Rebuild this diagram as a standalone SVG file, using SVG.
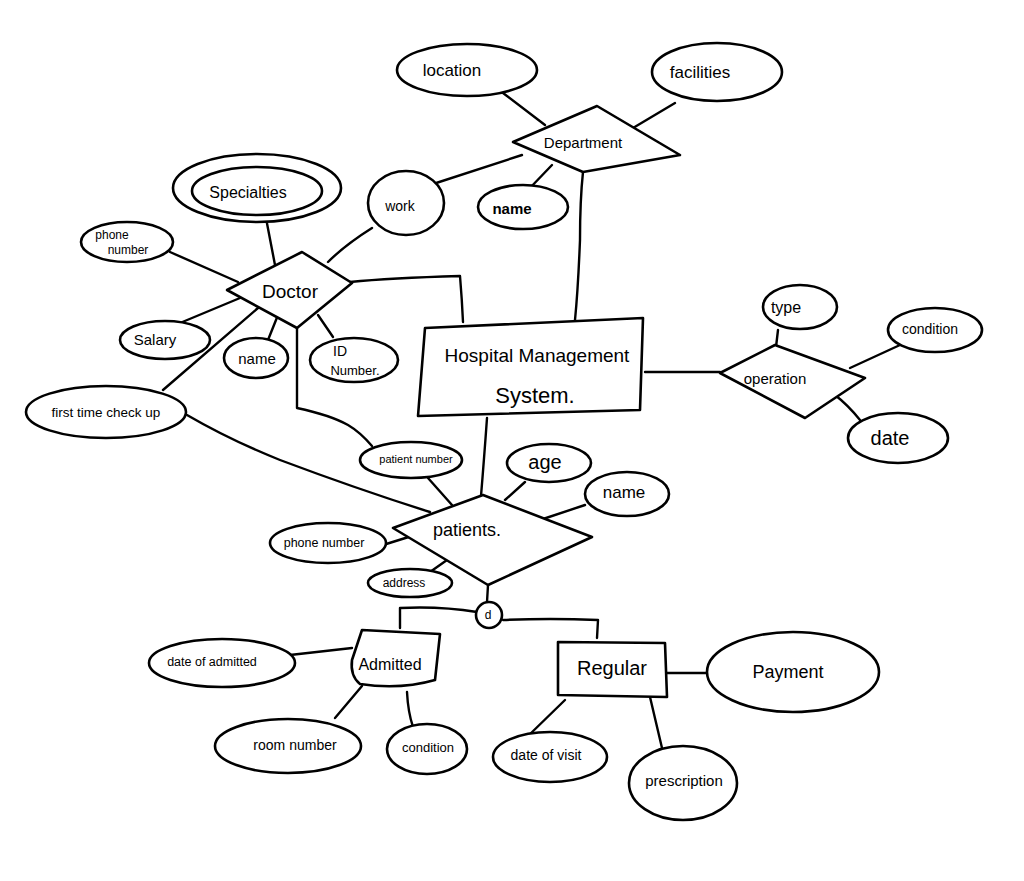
<svg xmlns="http://www.w3.org/2000/svg" width="1024" height="881" viewBox="0 0 1024 881">
<style>
.s{fill:#fff;stroke:#000;stroke-width:2.6;stroke-linejoin:round;stroke-linecap:round}
.c{fill:none;stroke:#000;stroke-width:2.4;stroke-linecap:round;stroke-linejoin:round}
text{font-family:"Liberation Sans",Arial,sans-serif;fill:#000;text-anchor:middle;dominant-baseline:middle}
</style>
<rect width="1024" height="881" fill="#fff"/>
<g id="connectors" class="c">
<path d="M503,93 L545,125"/>
<path d="M675,103 L633,128"/>
<path d="M522,155 L430,185"/>
<path d="M552,165 L528,190"/>
<path d="M583,172 Q580,200 580,240 Q578,290 575,320"/>
<path d="M372,228 Q345,245 328,262"/>
<path d="M265,213 L275,265"/>
<path d="M170,252 L238,282"/>
<path d="M180,323 L240,298"/>
<path d="M268,340 L278,315"/>
<path d="M333,337 L318,315"/>
<path d="M163,390 L258,308"/>
<path d="M187,415 Q230,440 280,460 Q360,490 430,512"/>
<path d="M350,282 Q390,278 460,276 Q462,300 463,322"/>
<path d="M297,328 L297,408 Q330,415 348,425 Q360,432 372,446"/>
<path d="M428,478 L452,505"/>
<path d="M487,418 Q484,460 481,496"/>
<path d="M525,482 L505,500"/>
<path d="M585,505 L540,520"/>
<path d="M383,545 L415,535"/>
<path d="M430,572 L447,560"/>
<path d="M645,372 L720,372"/>
<path d="M778,330 L776,347"/>
<path d="M900,345 L850,368"/>
<path d="M835,395 Q848,405 860,420"/>
<path d="M488,585 L487,602"/>
<path d="M477,612 Q440,606 400,608 L400,628"/>
<path d="M503,620 Q550,618 598,620 L597,638"/>
<path d="M290,655 L352,648"/>
<path d="M335,718 L362,686"/>
<path d="M407,692 Q408,712 413,727"/>
<path d="M565,700 L527,737"/>
<path d="M650,697 L662,748"/>
<path d="M667,673 L710,673"/>
</g>
<g id="location"><ellipse class="s" cx="467" cy="70" rx="70" ry="26"/><text x="452" y="72" font-size="17">location</text></g>
<g id="facilities"><ellipse class="s" cx="717" cy="72" rx="65" ry="29"/><text x="700" y="74" font-size="17">facilities</text></g>
<g id="department"><path class="s" d="M513,142 L597,106 L680,155 L583,172 Z"/><text x="583" y="144" font-size="15">Department</text></g>
<g id="work"><ellipse class="s" cx="406" cy="203" rx="38" ry="32"/><text x="400" y="207" font-size="14">work</text></g>
<g id="dept-name"><ellipse class="s" cx="523" cy="207" rx="45" ry="22"/><text x="512" y="210" font-size="15" font-weight="bold">name</text></g>
<g id="specialties"><ellipse class="s" cx="257" cy="188" rx="84" ry="34"/><ellipse class="s" cx="257" cy="191" rx="65" ry="24"/><text x="248" y="194" font-size="16">Specialties</text></g>
<g id="doctor-phone"><ellipse class="s" cx="127" cy="242" rx="46" ry="20"/><text x="112" y="236" font-size="12">phone</text><text x="128" y="251" font-size="12">number</text></g>
<g id="doctor"><path class="s" d="M227,290 L302,252 L352,283 L297,328 Z"/><text x="290" y="293" font-size="19">Doctor</text></g>
<g id="salary"><ellipse class="s" cx="165" cy="340" rx="45" ry="19"/><text x="155" y="341" font-size="15">Salary</text></g>
<g id="doctor-name"><ellipse class="s" cx="256" cy="358" rx="32" ry="20"/><text x="257" y="360" font-size="15">name</text></g>
<g id="id-number"><ellipse class="s" cx="354" cy="360" rx="44" ry="22"/><text x="340" y="352" font-size="14">ID</text><text x="355" y="372" font-size="13">Number.</text></g>
<g id="first-checkup"><ellipse class="s" cx="106" cy="412" rx="80" ry="26"/><text x="106" y="413" font-size="13.5">first time check up</text></g>
<g id="hms"><path class="s" d="M425,328 L643,318 L640,410 L418,416 Z"/><text x="537" y="357" font-size="19">Hospital  Management</text><text x="535" y="397" font-size="22">System.</text></g>
<g id="operation"><path class="s" d="M720,373 L775,345 L865,378 L805,418 Z"/><text x="775" y="380" font-size="15">operation</text></g>
<g id="type"><ellipse class="s" cx="800" cy="307" rx="37" ry="22"/><text x="786" y="309" font-size="16">type</text></g>
<g id="op-condition"><ellipse class="s" cx="935" cy="330" rx="47" ry="22"/><text x="930" y="330" font-size="14">condition</text></g>
<g id="date"><ellipse class="s" cx="898" cy="438" rx="50" ry="25"/><text x="890" y="440" font-size="20">date</text></g>
<g id="patient-number"><ellipse class="s" cx="411" cy="460" rx="51" ry="18"/><text x="416" y="460" font-size="11">patient number</text></g>
<g id="age"><ellipse class="s" cx="549" cy="463" rx="42" ry="19"/><text x="545" y="464" font-size="20">age</text></g>
<g id="patient-name"><ellipse class="s" cx="627" cy="494" rx="42" ry="22"/><text x="624" y="494" font-size="17">name</text></g>
<g id="patients"><path class="s" d="M393,528 L483,495 L592,537 L488,585 Z"/><text x="467" y="531" font-size="18">patients.</text></g>
<g id="patient-phone"><ellipse class="s" cx="328" cy="543" rx="58" ry="20"/><text x="324" y="544" font-size="12.5">phone number</text></g>
<g id="address"><ellipse class="s" cx="410" cy="583" rx="42" ry="14"/><text x="404" y="584" font-size="12">address</text></g>
<g id="disjoint"><circle class="s" cx="489" cy="615" r="13"/><text x="488" y="616" font-size="12">d</text></g>
<g id="admitted"><path class="s" d="M362,630 L440,634 L435,680 Q400,690 360,684 Q350,676 352,660 Z"/><text x="390" y="666" font-size="16">Admitted</text></g>
<g id="date-admitted"><ellipse class="s" cx="222" cy="663" rx="73" ry="24"/><text x="212" y="663" font-size="12.5">date of admitted</text></g>
<g id="room-number"><ellipse class="s" cx="288" cy="746" rx="73" ry="27"/><text x="295" y="746" font-size="14">room number</text></g>
<g id="adm-condition"><ellipse class="s" cx="427" cy="749" rx="40" ry="25"/><text x="428" y="749" font-size="13">condition</text></g>
<g id="regular"><path class="s" d="M558,642 L665,643 L667,697 L558,695 Z"/><text x="612" y="670" font-size="20">Regular</text></g>
<g id="payment"><ellipse class="s" cx="793" cy="672" rx="86" ry="40"/><text x="788" y="673" font-size="18">Payment</text></g>
<g id="date-visit"><ellipse class="s" cx="550" cy="757" rx="57" ry="25"/><text x="546" y="756" font-size="14">date of visit</text></g>
<g id="prescription"><ellipse class="s" cx="683" cy="783" rx="54" ry="37"/><text x="684" y="782" font-size="15">prescription</text></g>
</svg>
